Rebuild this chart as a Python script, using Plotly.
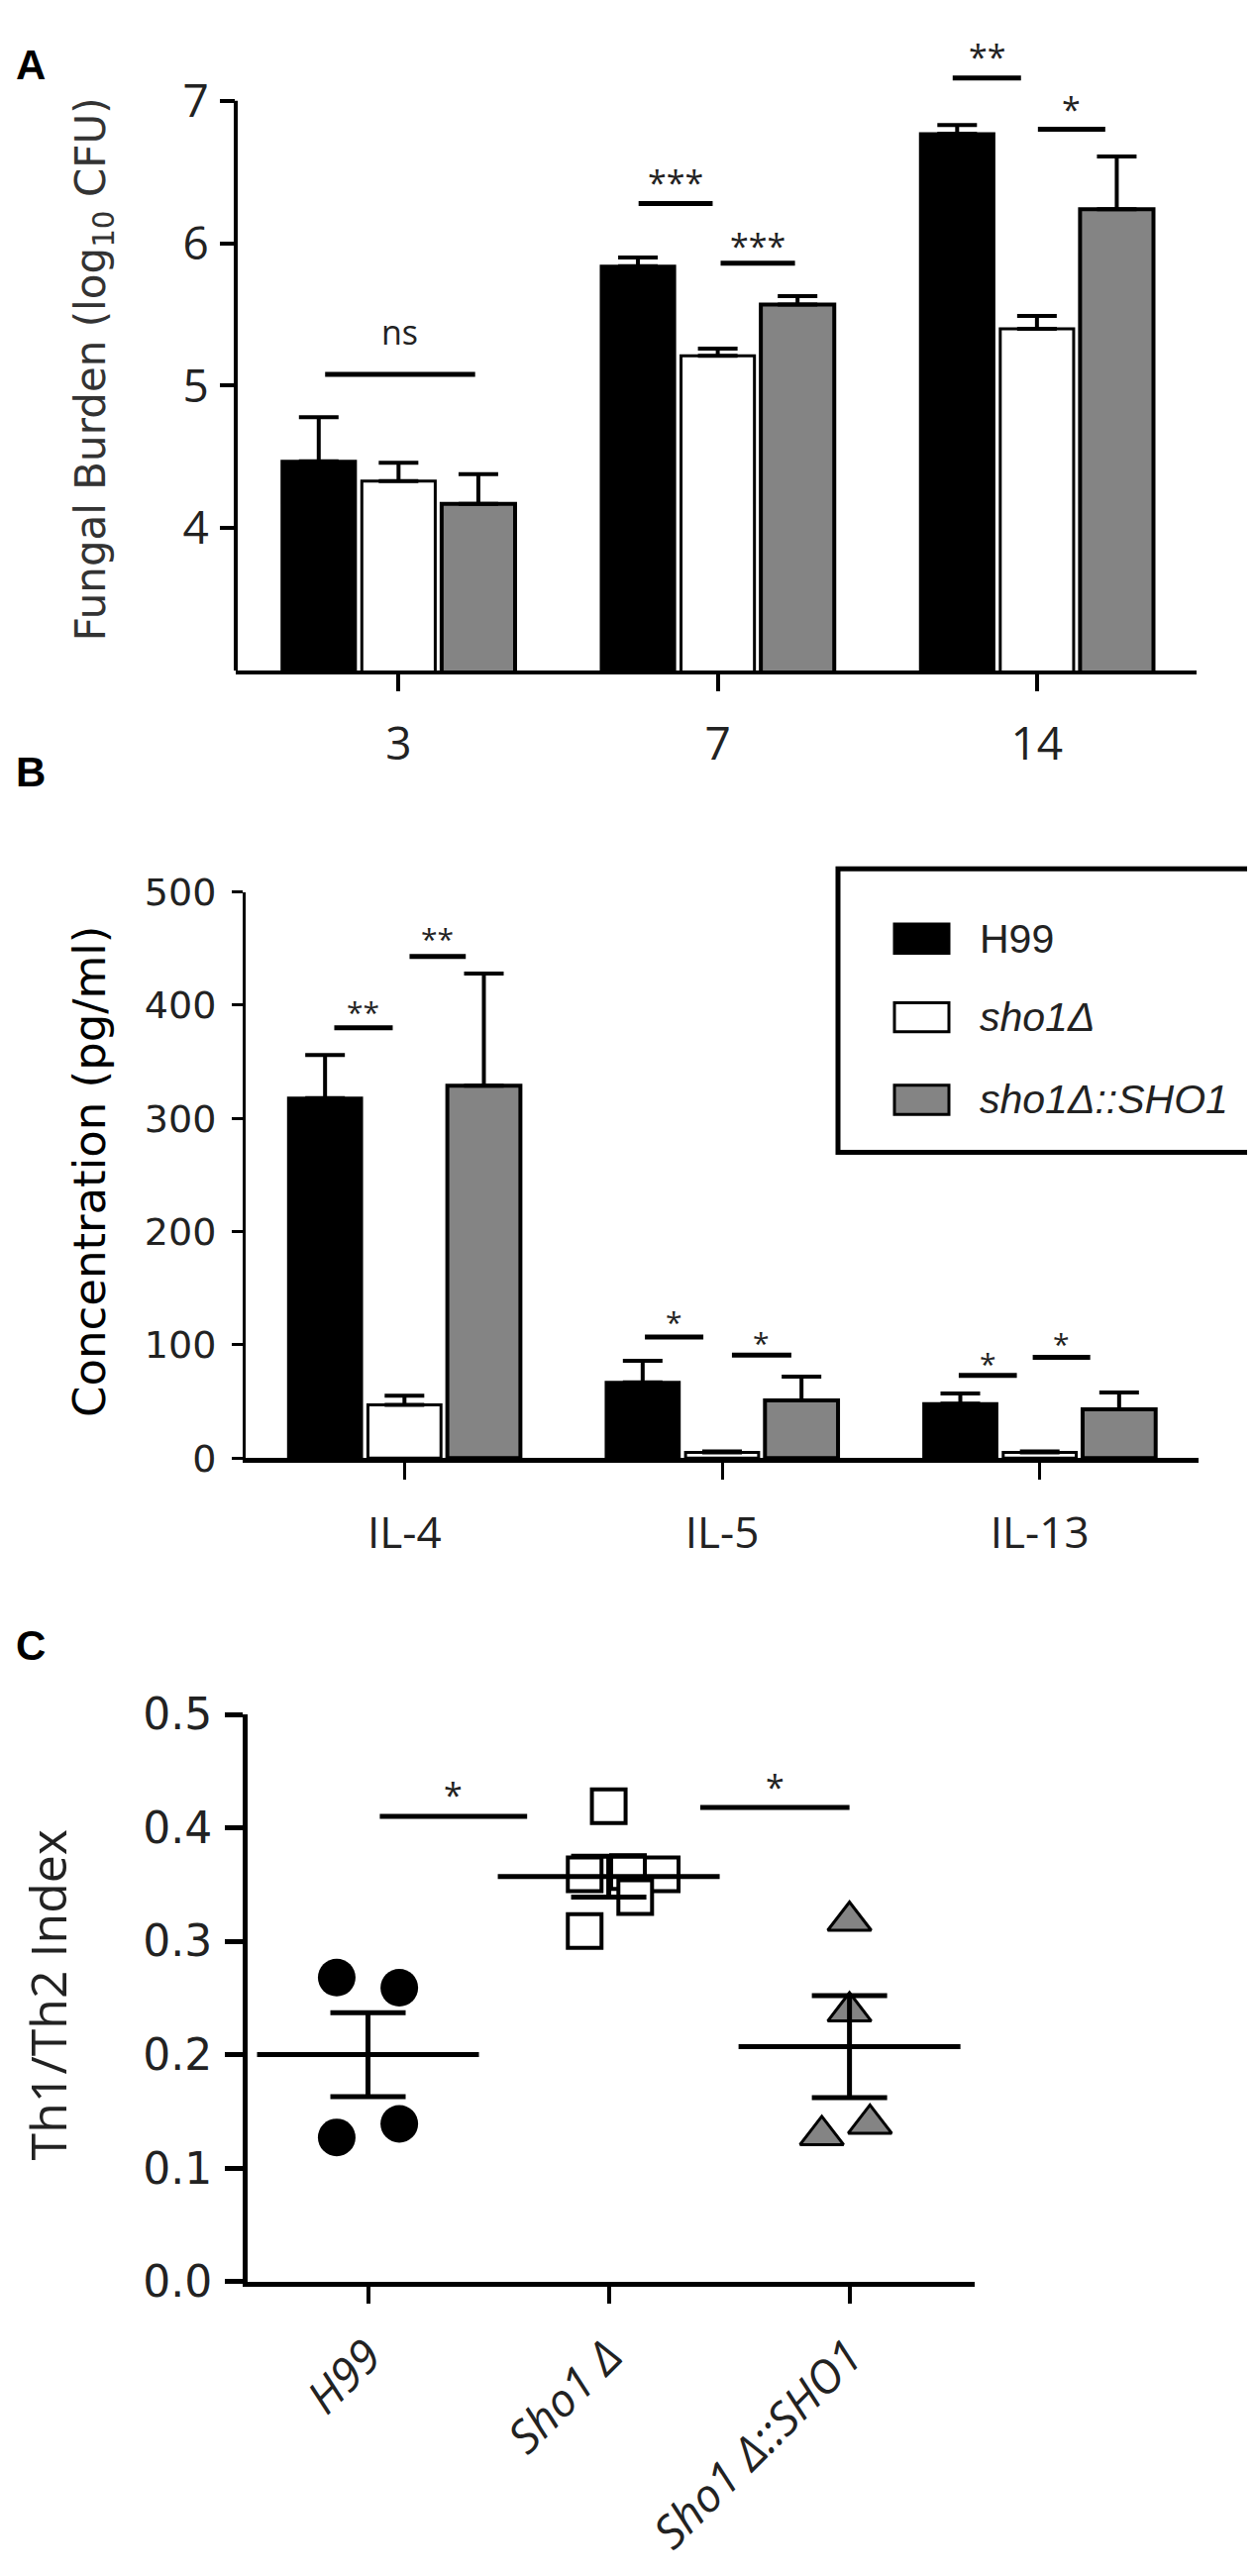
import plotly.graph_objects as go

W, H = 1267, 2601

# ---- panel A: fungal burden (log10 CFU) per day post infection
days = ["3", "7", "14"]
burden_h99 = [4.47, 5.84, 6.77]
burden_h99_err = [0.31, 0.06, 0.06]
burden_sho1 = [4.33, 5.21, 5.40]
burden_sho1_err = [0.13, 0.05, 0.09]
burden_comp = [4.17, 5.57, 6.24]
burden_comp_err = [0.21, 0.06, 0.37]

# ---- panel B: cytokine concentration (pg/ml)
cytokines = ["IL-4", "IL-5", "IL-13"]
conc_h99 = [318, 67, 48]
conc_h99_err = [38, 19, 9]
conc_sho1 = [47, 5, 5]
conc_sho1_err = [8, 1, 1]
conc_comp = [329, 51, 43]
conc_comp_err = [99, 21, 15]

# ---- panel C: Th1/Th2 index, individual mice
strains_c = ["H99", "Sho1 Δ", "Sho1 Δ::SHO1"]
index_h99 = [0.268, 0.259, 0.139, 0.127]
jitter_h99 = [-0.13, 0.13, 0.13, -0.13]
index_sho1 = [0.419, 0.309, 0.359, 0.361, 0.359, 0.339]
jitter_sho1 = [0.0, -0.10, -0.10, 0.08, 0.22, 0.11]
index_comp = [0.318, 0.238, 0.129, 0.139]
jitter_comp = [0.0, 0.0, -0.115, 0.085]
index_mean = [0.200, 0.357, 0.207]
index_sem = [0.037, 0.018, 0.045]

# significance brackets: (x0, x1, line y, label y, label)
sig_a = [(-0.23, 0.24, 5.08, 5.38, "ns"),
         (0.752, 0.984, 6.28, 6.48, "***"),
         (1.009, 1.242, 5.86, 6.03, "***"),
         (1.736, 1.950, 7.16, 7.36, "**"),
         (2.003, 2.214, 6.80, 6.99, "*")]
sig_b = [(-0.221, -0.037, 380, 400, "**"),
         (0.016, 0.193, 443, 465, "**"),
         (0.757, 0.941, 107, 127, "*"),
         (1.031, 1.218, 91, 108, "*"),
         (1.745, 1.928, 73, 90, "*"),
         (1.978, 2.159, 89, 107, "*")]
sig_c = [(0.049, 0.661, 0.410, 0.435, "*"),
         (1.380, 2.0, 0.418, 0.442, "*")]

legend_names = ["H99", "<i>sho1Δ</i>", "<i>sho1Δ::SHO1</i>"]

BLACK = "black"
GREY = "#848484"
TXT = "#222222"


def px(x):
    return x / W


def py(y):
    return 1 - y / H


fig = go.Figure()

# bars A
for vals, errs, fill, lw in [(burden_h99, burden_h99_err, BLACK, 3),
                             (burden_sho1, burden_sho1_err, "white", 3),
                             (burden_comp, burden_comp_err, GREY, 4)]:
    fig.add_trace(go.Bar(
        x=days, y=vals, xaxis="x", yaxis="y",
        marker=dict(color=fill, line=dict(color=BLACK, width=lw)),
        error_y=dict(type="data", symmetric=False, array=errs,
                     arrayminus=[0] * len(errs), thickness=4, width=20, color=BLACK),
        showlegend=False,
    ))

# bars B
for vals, errs, fill, lw in [(conc_h99, conc_h99_err, BLACK, 3),
                             (conc_sho1, conc_sho1_err, "white", 3),
                             (conc_comp, conc_comp_err, GREY, 4)]:
    fig.add_trace(go.Bar(
        x=cytokines, y=vals, xaxis="x2", yaxis="y2",
        marker=dict(color=fill, line=dict(color=BLACK, width=lw)),
        error_y=dict(type="data", symmetric=False, array=errs,
                     arrayminus=[0] * len(errs), thickness=4, width=20, color=BLACK),
        showlegend=False,
    ))

# scatter C
groups_c = [(index_h99, jitter_h99, dict(symbol="circle", size=38, color=BLACK)),
            (index_sho1, jitter_sho1, dict(symbol="square", size=34, color="white",
                                           line=dict(color=BLACK, width=4))),
            (index_comp, jitter_comp, dict(symbol="triangle-up", size=38, color=GREY,
                                           line=dict(color=BLACK, width=3)))]
for i, (vals, jit, mk) in enumerate(groups_c):
    fig.add_trace(go.Scatter(
        x=[i + j for j in jit], y=vals, xaxis="x3", yaxis="y3",
        mode="markers", marker=mk, showlegend=False, cliponaxis=False,
    ))

# mean +/- SEM
fig.add_trace(go.Scatter(
    x=[0, 1, 2], y=index_mean, xaxis="x3", yaxis="y3", mode="markers",
    marker=dict(symbol="line-ew", size=160, line=dict(color=BLACK, width=5)),
    error_y=dict(type="data", array=index_sem, thickness=5, width=38, color=BLACK),
    showlegend=False, cliponaxis=False,
))

shapes = []
annotations = []

# manual y axis line for A (stops at 7)
shapes.append(dict(type="line", xref="x domain", yref="y", x0=0, x1=0, y0=3, y1=7,
                   line=dict(color=BLACK, width=4)))

for sig, xr, yr, fsize, lw in [(sig_a, "x", "y", 34, 5), (sig_b, "x2", "y2", 30, 5),
                               (sig_c, "x3", "y3", 34, 5)]:
    for x0, x1, yl, yt, lab in sig:
        shapes.append(dict(type="line", xref=xr, yref=yr, x0=x0, x1=x1, y0=yl, y1=yl,
                           line=dict(color=BLACK, width=lw)))
        annotations.append(dict(xref=xr, yref=yr, x=(x0 + x1) / 2, y=yt, text=lab,
                                showarrow=False, xanchor="center", yanchor="middle",
                                yshift=0 if lab == "ns" else -7,
                                font=dict(family="Open Sans", size=fsize, color=TXT)))

# legend for B drawn by hand
shapes.append(dict(type="rect", xref="paper", yref="paper", x0=px(838), x1=px(1259),
                   y0=py(1152), y1=py(860), line=dict(color=BLACK, width=5),
                   fillcolor="white", layer="below"))
for (name, fill, ycen) in zip(legend_names, [BLACK, "white", GREY], [932, 1013, 1098]):
    shapes.append(dict(type="rect", xref="paper", yref="paper", x0=px(895), x1=px(950),
                       y0=py(ycen + 15), y1=py(ycen - 15), fillcolor=fill,
                       line=dict(color=BLACK, width=3)))
    annotations.append(dict(xref="paper", yref="paper", x=px(979), y=py(ycen), text=name,
                            showarrow=False, xanchor="left", yanchor="middle",
                            font=dict(family="Liberation Sans", size=41, color=TXT)))

# axis titles
annotations += [
    dict(xref="paper", yref="paper", x=px(86), y=py(346),
         text="Fungal Burden (log<sub>10</sub> CFU)", textangle=-90, showarrow=False,
         xanchor="center", yanchor="middle",
         font=dict(family="DejaVu Sans", size=42, color="#333333")),
    dict(xref="paper", yref="paper", x=px(82), y=py(1172),
         text="Concentration (pg/ml)", textangle=-90, showarrow=False,
         xanchor="center", yanchor="middle",
         font=dict(family="DejaVu Sans", size=45, color=BLACK)),
    dict(xref="paper", yref="paper", x=px(40), y=py(2020),
         text="Th1/Th2 Index", textangle=-90, showarrow=False,
         xanchor="center", yanchor="middle",
         font=dict(family="Open Sans", size=50, color=TXT)),
]

# panel letters
for lab, ycen in [("A", 32), ("B", 760), ("C", 1660)]:
    annotations.append(dict(xref="paper", yref="paper", x=px(23), y=py(ycen), text="<b>%s</b>" % lab,
                            showarrow=False, xanchor="center", yanchor="middle",
                            font=dict(family="Liberation Sans", size=42, color=BLACK)))

tick_a = dict(family="Open Sans", size=46, color=TXT)
tick_b = dict(family="DejaVu Sans", size=38, color=TXT)

fig.update_layout(
    width=W, height=H,
    margin=dict(l=0, r=0, t=0, b=0),
    paper_bgcolor="white", plot_bgcolor="white",
    barmode="group", bargap=0.25, bargroupgap=0.08,
    showlegend=False,
    shapes=shapes, annotations=annotations,
    xaxis=dict(domain=[px(230), px(1200)], anchor="y", type="category", range=[-0.51, 2.5],
               showline=True, linewidth=4, linecolor=BLACK, ticks="outside", ticklen=17,
               tickwidth=4, tickcolor=BLACK, tickfont=tick_a, ticklabelstandoff=14,
               showgrid=False, zeroline=False),
    yaxis=dict(domain=[py(656), py(5)], anchor="x", range=[3, 3 + 651 / 146.7],
               tickvals=[4, 5, 6, 7], showline=False, ticks="outside", ticklen=15,
               tickwidth=4, tickcolor=BLACK, tickfont=tick_a, ticklabelstandoff=2,
               showgrid=False, zeroline=False),
    xaxis2=dict(domain=[px(240), px(1202)], anchor="y2", type="category", range=[-0.5, 2.5],
                showline=True, linewidth=5, linecolor=BLACK, ticks="outside", ticklen=17,
                tickwidth=3, tickcolor=BLACK, tickfont=dict(family="Open Sans", size=44, color=TXT),
                ticklabelstandoff=16, showgrid=False, zeroline=False),
    yaxis2=dict(domain=[py(1467), py(884)], anchor="x2", range=[0, 500], dtick=100,
                showline=True, linewidth=3, linecolor=BLACK, ticks="outside", ticklen=11,
                tickwidth=3, tickcolor=BLACK, tickfont=tick_b, ticklabelstandoff=8,
                showgrid=False, zeroline=False),
    xaxis3=dict(domain=[px(242), px(976)], anchor="y3", range=[-0.5, 2.52],
                tickvals=[0, 1, 2], ticktext=strains_c, tickangle=-45,
                showline=True, linewidth=5, linecolor=BLACK, ticks="outside", ticklen=17,
                tickwidth=4, tickcolor=BLACK,
                tickfont=dict(family="Open Sans", size=46, color=TXT, style="italic"),
                ticklabelstandoff=8, showgrid=False, zeroline=False),
    yaxis3=dict(domain=[py(2315), py(1731)], anchor="x3", range=[0, 0.5], dtick=0.1,
                tickformat=".1f", showline=True, linewidth=5, linecolor=BLACK,
                ticks="outside", ticklen=18, tickwidth=5, tickcolor=BLACK,
                tickfont=dict(family="DejaVu Sans", size=44, color=TXT),
                ticklabelstandoff=4, showgrid=False, zeroline=False),
)

fig.write_html("out.html")
